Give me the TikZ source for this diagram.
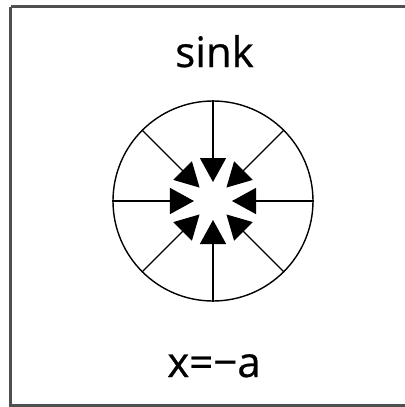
\documentclass[tikz,border=0pt]{standalone}
\usepackage{fontspec}
\setmainfont{Open Sans}
\newfontfamily\lblfont{Open Sans}[UprightFeatures={FakeBold=0.6}]
\usetikzlibrary{arrows.meta,calc}
\begin{document}
\begin{tikzpicture}[x=1bp,y=-1bp,
  frame/.style={draw={rgb,255:red,80;green,80;blue,80},line width=2.2bp},
  spoke/.style={draw=black,line width=1.4bp,-{Triangle[length=24bp,width=26bp]}},
  ring/.style={circle,draw=black,line width=1.4bp,minimum size=200bp,inner sep=0pt},
  lbl/.style={font=\fontsize{42bp}{48bp}\lblfont,text=black,inner sep=0pt,anchor=base}]
\useasboundingbox (0,0) rectangle (405,407);
\fill[white] (0,0) rectangle (405,407);
\draw[frame] (10.5,6.5) -- (412,6.5) (10.5,6.5) -- (10.5,405.5) -- (412,405.5);
\node[ring] (c) at (213,201) {};
\coordinate (o) at (213,201);
\foreach \a in {0,45,...,315}{
  \coordinate (t\a) at ($(o)+(\a:19bp)$);
}
\foreach \a in {0,45,...,315}{
  \draw[spoke] (c.\a) -- (t\a);
}
\node[lbl] (sink) at (214.5,67) {sink};
\node[lbl] (xa) at (214,377) {x=−a};
\end{tikzpicture}
\end{document}
